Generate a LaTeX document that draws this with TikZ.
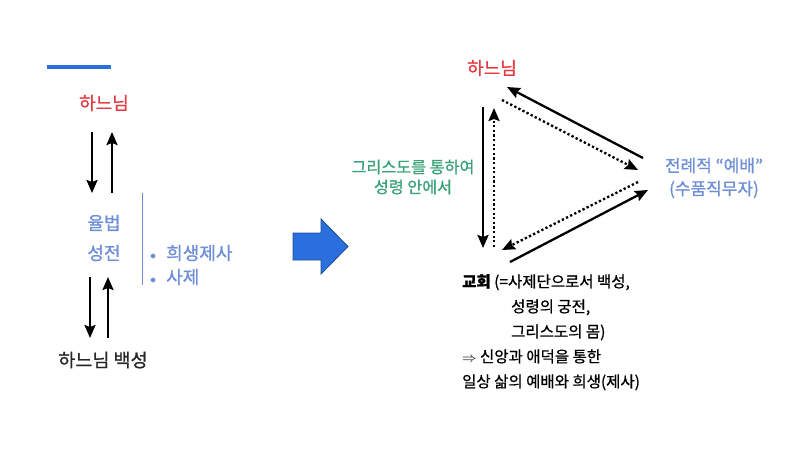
\documentclass[tikz,border=0pt]{standalone}
\usepackage{fontspec}
\setmainfont{Noto Sans CJK KR}[FakeBold=0.8]
\usepackage{amsmath, amssymb}
\usetikzlibrary{arrows.meta}

\definecolor{godred}{HTML}{E53A3F}
\definecolor{lawblue}{HTML}{6E8ED6}
\definecolor{spiritgreen}{HTML}{3AA277}
\definecolor{barblue}{HTML}{2A6FDD}

\newcommand{\dotitem}[1]{{\fontsize{12}{24}\selectfont$\bullet$}\,\, #1}

\begin{document}
\begin{tikzpicture}[x=1pt,y=-1pt,
  >={Stealth[length=13pt,width=11pt,inset=2pt]},
  flow/.style={->,line width=2.3pt},
  dotflow/.style={->,line width=2.3pt,dash pattern=on 2.3pt off 2.3pt},
  word/.style={font=\fontsize{18}{20}\selectfont, inner sep=1pt}]
  \fill[white] (0,0) rectangle (800,450);
  \useasboundingbox (0,0) rectangle (800,450);

  % left column
  \fill[barblue] (47,65) rectangle (111,69);
  \node[word,godred] (god) at (104,103) {하느님};
  \node[word,lawblue,align=center,font=\fontsize{18}{30}\selectfont] (law) at (104,238) {율법\\성전};
  \node[word,text=black!85,font=\fontsize{18.5}{20}\selectfont] (people) at (103,360) {하느님 백성};
  \draw[lawblue,line width=1pt] (142,193) -- (142,285);
  \node[word,lawblue,anchor=west,align=left,font=\fontsize{18}{24}\selectfont] (sacrifice) at (149,265) {\dotitem{희생제사}\\\dotitem{사제}};

  \coordinate (godL) at (92,132);  \coordinate (lawL) at (92,193);
  \coordinate (godR) at (112,132); \coordinate (lawR) at (112,193);
  \coordinate (law2L) at (90,277);  \coordinate (peopleL) at (90,338);
  \coordinate (law2R) at (108,277); \coordinate (peopleR) at (108,338);
  \draw[flow] (godL) -- (lawL);
  \draw[flow] (lawR) -- (godR);
  \draw[flow] (law2L) -- (peopleL);
  \draw[flow] (peopleR) -- (law2R);

  % big blue arrow
  \draw[fill=barblue,draw=barblue!70!black,line width=0.8pt]
    (293,233) -- (321,233) -- (321,219) -- (348,246.5) -- (321,274) -- (321,260) -- (293,260) -- cycle;

  % right triangle
  \node[word,godred] (god2) at (492,68) {하느님};
  \node[word,spiritgreen,align=center,font=\fontsize{16.2}{20}\selectfont] (spirit) at (413,177) {그리스도를 통하여\\성령 안에서};
  \node[word,lawblue,align=center,font=\fontsize{17}{23}\selectfont] (liturgy) at (714,178) {전례적 “예배”\\(수품직무자)};
  \node[anchor=north west,align=left,inner sep=0pt,font=\fontsize{15.5}{25}\selectfont] (church) at (462,274)
    {\textbf{교회} (=사제단으로서 백성,\\\hspace*{49pt}성령의 궁전,\\\hspace*{49pt}그리스도의 몸)\\$\Rightarrow$ 신앙과 애덕을 통한\\일상 삶의 예배와 희생(제사)};

  \coordinate (topA) at (483,107);  \coordinate (botA) at (483,248);
  \coordinate (botB) at (494,247);  \coordinate (topB) at (494,108);
  \coordinate (rightA) at (643,158); \coordinate (topC) at (507,87);
  \coordinate (topD) at (502,100);  \coordinate (rightB) at (638,170);
  \coordinate (rightC) at (638,182); \coordinate (botC) at (502,250);
  \coordinate (botD) at (510,262);  \coordinate (rightD) at (648,190);

  \draw[flow] (topA) -- (botA);
  \draw[dotflow] (botB) -- (topB);
  \draw[flow] (rightA) -- (topC);
  \draw[dotflow] (topD) -- (rightB);
  \draw[dotflow] (rightC) -- (botC);
  \draw[flow] (botD) -- (rightD);
\end{tikzpicture}
\end{document}
